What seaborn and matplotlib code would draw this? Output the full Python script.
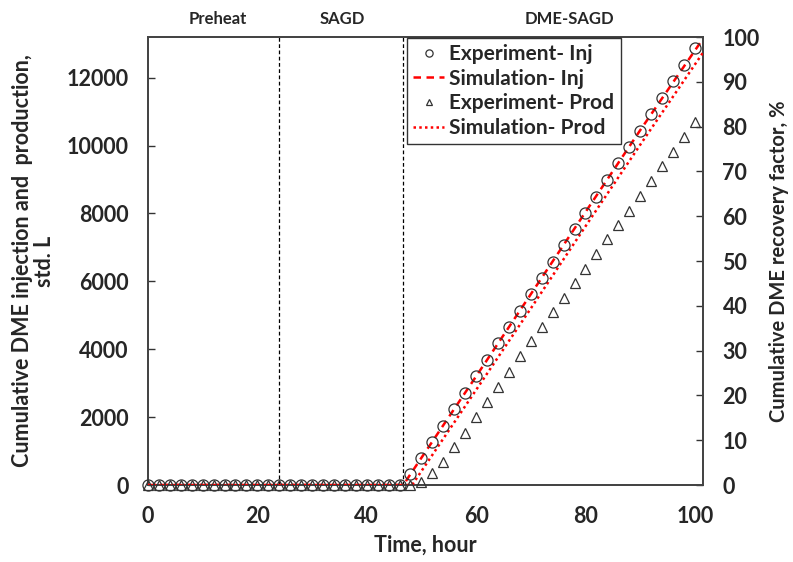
import matplotlib
matplotlib.use("Agg")
import matplotlib.pyplot as plt
import seaborn as sns
import numpy as np

# ---- data ----
time_h = [0, 2, 4, 6, 8, 10, 12, 14, 16, 18, 20, 22, 24, 26, 28, 30, 32, 34, 36, 38,
          40, 42, 44, 46, 48, 50, 52, 54, 56, 58, 60, 62, 64, 66, 68, 70, 72, 74, 76, 78,
          80, 82, 84, 86, 88, 90, 92, 94, 96, 98, 100]
exp_inj = [0] * 24 + [325, 790, 1280, 1750, 2235, 2720, 3200, 3685, 4170, 4650, 5140,
                      5635, 6100, 6570, 7065, 7555, 8020, 8485, 8995, 9480, 9955, 10445,
                      10935, 11410, 11890, 12365, 12875]
exp_prod = [0] * 25 + [100, 365, 690, 1115, 1545, 2000, 2435, 2885, 3340, 3795, 4245,
                       4645, 5090, 5500, 5960, 6375, 6810, 7235, 7655, 8080, 8515, 8965,
                       9390, 9825, 10250, 10690]
sim_inj_t = [0, 46.7, 48, 60, 70, 80, 90, 101.5]
sim_inj = [0, 0, 320, 3200, 5620, 8040, 10450, 13150]
sim_prod_t = [0, 48.3, 60, 70, 80, 90, 101.5]
sim_prod = [0, 0, 2800, 5200, 7620, 10020, 12740]
phase_bounds = [24, 46.7]
phase_labels = ["Preheat", "SAGD", "DME-SAGD"]
phase_label_x = [12.8, 35.6, 77]
left_ticks = [0, 2000, 4000, 6000, 8000, 10000, 12000]
right_ticks = [0, 10, 20, 30, 40, 50, 60, 70, 80, 90, 100]
x_ticks = [0, 20, 40, 60, 80, 100]

sns.set_style("white")
plt.rcParams['font.family'] = ['Lato', 'DejaVu Sans']
plt.rcParams['font.weight'] = 'bold'

fig = plt.figure(figsize=(7.93, 5.62), dpi=100)
ax = fig.add_axes([148/793, 1 - 485/562, 555/793, 448/562])

edge = '#333333'
sns.lineplot(x=time_h, y=exp_inj, ax=ax, marker='o', linestyle='', markersize=8,
             markerfacecolor='none', markeredgecolor=edge, markeredgewidth=0.9,
             label='Experiment- Inj', clip_on=False, zorder=4)
sns.lineplot(x=sim_inj_t, y=sim_inj, ax=ax, color='red', linestyle=(0, (3, 2.2)),
             linewidth=1.8, label='Simulation- Inj', zorder=3)
sns.lineplot(x=time_h, y=exp_prod, ax=ax, marker='^', linestyle='', markersize=7,
             markerfacecolor='none', markeredgecolor=edge, markeredgewidth=0.9,
             label='Experiment- Prod', clip_on=False, zorder=4)
sns.lineplot(x=sim_prod_t, y=sim_prod, ax=ax, color='red', linestyle=(0, (1, 1.3)),
             linewidth=1.8, label='Simulation- Prod', zorder=3)

for xb in phase_bounds:
    ax.axvline(xb, color='black', linestyle=(0, (3, 2)), linewidth=0.9, zorder=2)

ax.set_xlim(0, 101.5)
ax.set_ylim(0, 13200)
ax.set_xticks(x_ticks)
ax.set_yticks(left_ticks)
ax.tick_params(direction='in', length=5, width=1, labelsize=15.5, color='#333333')
ax.tick_params(axis='x', pad=15)
ax.tick_params(axis='y', pad=14)
for lab in ax.get_xticklabels() + ax.get_yticklabels():
    lab.set_fontweight('bold')

ax.set_xlabel('Time, hour', fontsize=15.5, fontweight='bold', labelpad=6)
ax.set_ylabel('Cumulative DME injection and  production,\nstd. L', fontsize=15.5,
              fontweight='bold', labelpad=8, linespacing=1.05)

for s in ax.spines.values():
    s.set_color('#444444')
    s.set_linewidth(1.3)

ax2 = ax.twinx()
ax2.set_ylim(0, 100)
ax2.set_yticks(right_ticks)
ax2.tick_params(direction='in', length=5, width=1, labelsize=15.5, pad=14, color='#333333')
for lab in ax2.get_yticklabels():
    lab.set_fontweight('bold')
ax2.set_ylabel('Cumulative DME recovery factor, %', fontsize=14.5, fontweight='bold',
               labelpad=7)
for s in ax2.spines.values():
    s.set_color('#444444')
    s.set_linewidth(1.3)

for lbl, xl in zip(phase_labels, phase_label_x):
    ax.text(xl, 1.029, lbl, transform=ax.get_xaxis_transform(), ha='center',
            va='baseline', fontsize=12, fontweight='bold')

leg = ax.legend(loc='upper left', bbox_to_anchor=(0.466, 0.998), fontsize=15,
                frameon=True, fancybox=False, borderaxespad=0, handlelength=1.5,
                handletextpad=0.25, labelspacing=0.22, borderpad=0.3, markerscale=0.65)
leg.get_frame().set_edgecolor('black')
leg.get_frame().set_linewidth(1.0)
for t in leg.get_texts():
    t.set_fontweight('bold')
leg.set_zorder(10)
ax.set_zorder(ax2.get_zorder() + 1)
ax.patch.set_visible(False)

fig.savefig('out.png', dpi=100)
